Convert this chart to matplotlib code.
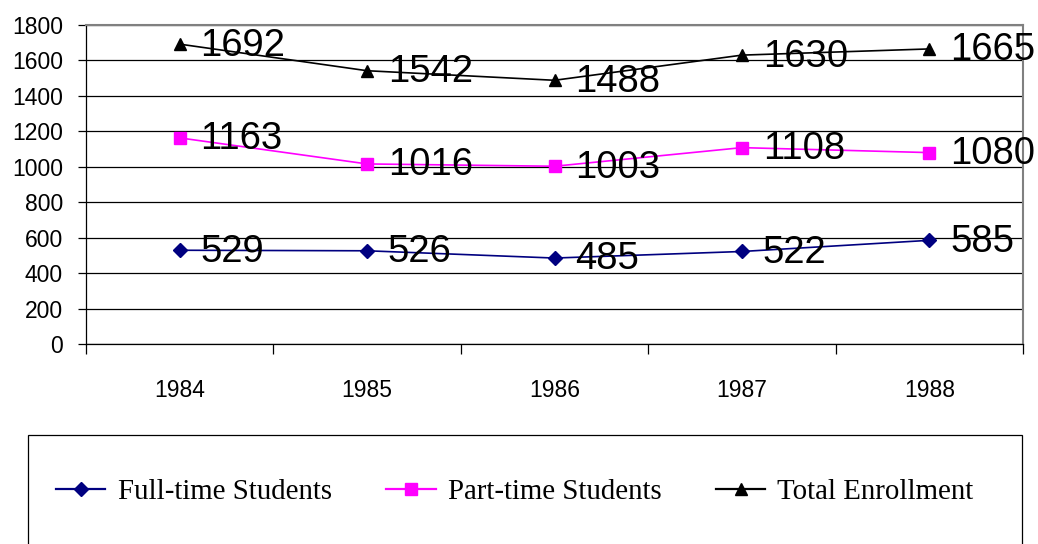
import numpy as np
import matplotlib.pyplot as plt
from matplotlib.patches import Rectangle

years = ["1984", "1985", "1986", "1987", "1988"]
full_time = [529, 526, 485, 522, 585]
part_time = [1163, 1016, 1003, 1108, 1080]
total = [1692, 1542, 1488, 1630, 1665]

W, H = 1038, 544
fig = plt.figure(figsize=(W / 100, H / 100), dpi=100)
ax = fig.add_axes([86 / W, 1 - 344 / H, (1023 - 86) / W, (344 - 25) / H])

x = np.arange(len(years))
series = [
    (full_time, "Full-time Students", "#000080", "D", 7),
    (part_time, "Part-time Students", "#FF00FF", "s", 8),
    (total, "Total Enrollment", "black", "^", 8),
]
for vals, name, col, mk, ms in series:
    ax.plot(x, vals, color=col, marker=mk, markersize=ms, linewidth=1.2, label=name,
            clip_on=False, zorder=3)
    for xi, v in zip(x, vals):
        ax.annotate(str(v), (xi, v), xytext=(15, -1), textcoords="offset points",
                    ha="left", va="center", fontsize=27.5, family="Liberation Sans",
                    annotation_clip=False, zorder=4)

ax.set_xlim(-0.5, len(years) - 0.5)
ax.set_ylim(0, 1800)
ax.set_yticks(np.arange(0, 1801, 200))
ax.yaxis.grid(True, color="black", linewidth=0.9)
ax.set_axisbelow(True)

ax.set_xticks(x)
ax.set_xticklabels(years)
ax.set_xticks(np.arange(-0.5, len(years)), minor=True)
ax.tick_params(axis="x", which="major", length=0, pad=25, labelsize=16.5)
ax.tick_params(axis="x", which="minor", length=7, width=0.9, direction="out")
ax.tick_params(axis="y", length=6, width=0.9, pad=10.5, labelsize=16.5)
for lab in ax.get_xticklabels() + ax.get_yticklabels():
    lab.set_family("Liberation Sans")

ax.spines["top"].set_color("#808080")
ax.spines["right"].set_color("#808080")
ax.spines["top"].set_linewidth(1.5)
ax.spines["right"].set_linewidth(1.5)
ax.spines["left"].set_linewidth(0.9)
ax.spines["bottom"].set_linewidth(0.9)

# legend box (bottom edge runs off the image)
box = Rectangle((28 / W, 1 - 580 / H), (1022 - 28) / W, (580 - 435) / H,
                transform=fig.transFigure, fill=False, edgecolor="black",
                linewidth=0.9, clip_on=False)
fig.patches.append(box)

leg = fig.legend(loc="center", bbox_to_anchor=(515 / W, 1 - 492 / H), ncol=3,
                 frameon=False, prop={"family": "Liberation Serif", "size": 20.8},
                 handlelength=1.7, handletextpad=0.42, columnspacing=1.9)
for line in leg.get_lines():
    line.set_linewidth(1.6)

fig.savefig("out.png", dpi=100)
